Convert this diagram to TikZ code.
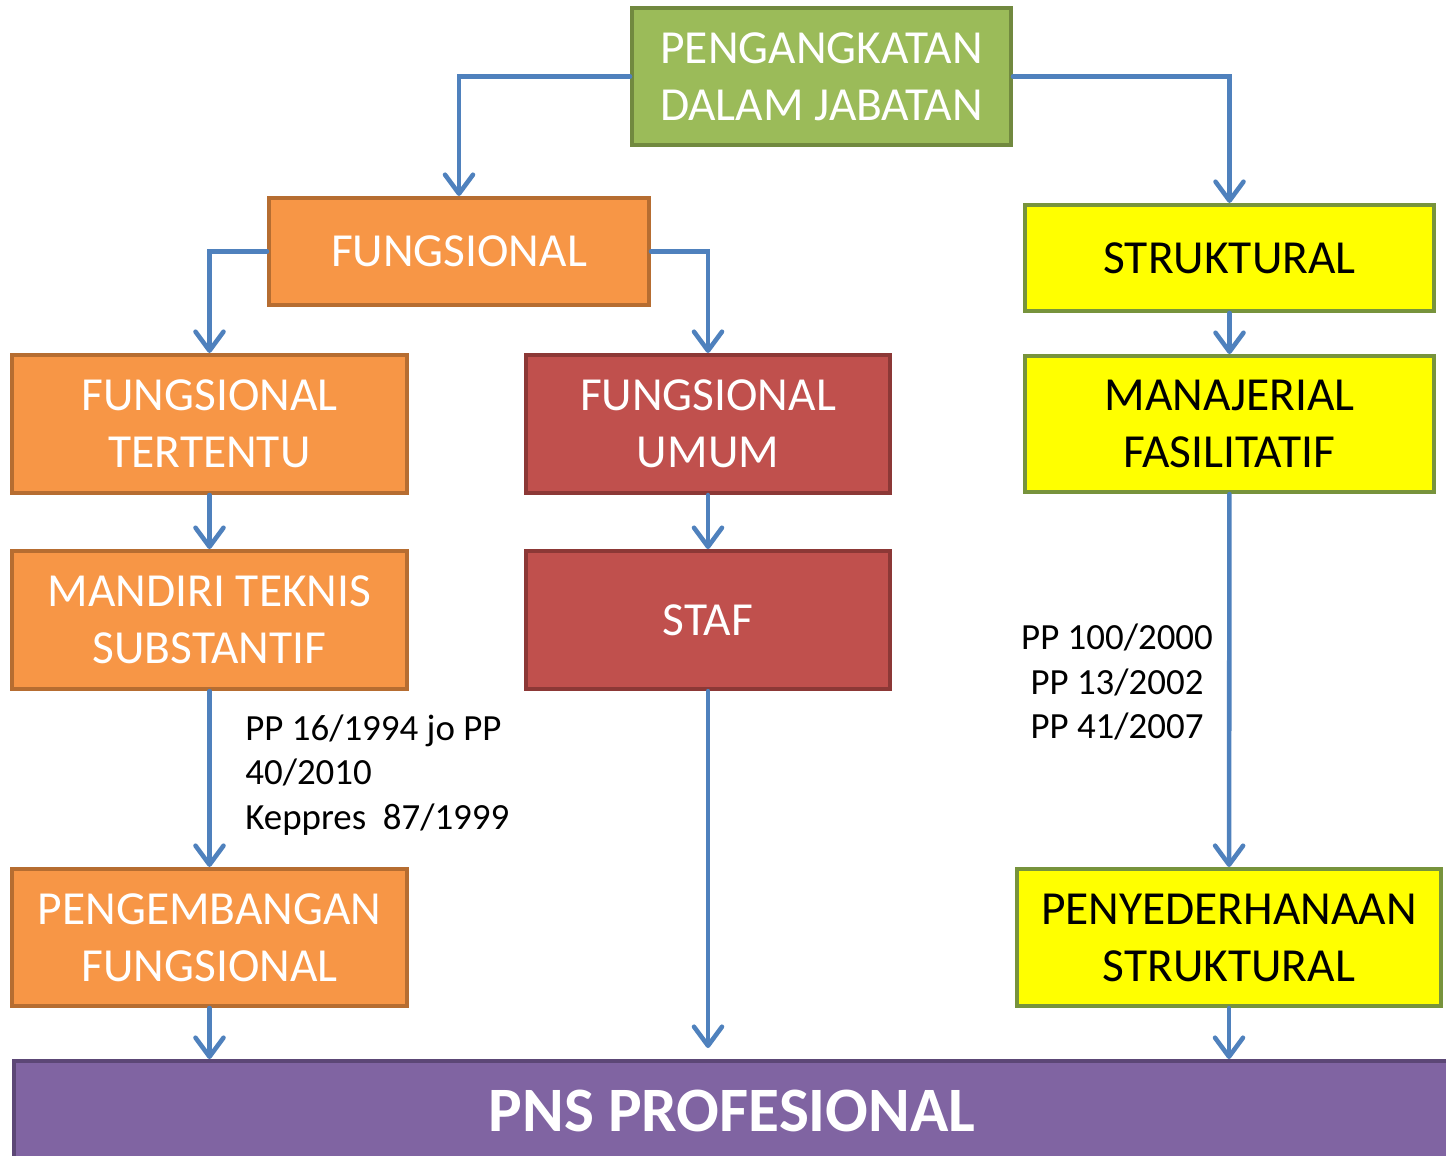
\documentclass[tikz,border=0pt]{standalone}
\usepackage{fontspec}
\setmainfont{Carlito}
\usetikzlibrary{arrows.meta}
\usetikzlibrary{positioning}

\definecolor{hijau}{HTML}{9BBB59}
\definecolor{hijaugaris}{HTML}{71893F}
\definecolor{oranye}{HTML}{F79646}
\definecolor{oranyegaris}{HTML}{B66D31}
\definecolor{merah}{HTML}{C0504D}
\definecolor{merahgaris}{HTML}{8C3836}
\definecolor{kuning}{HTML}{FFFF00}
\definecolor{kuninggaris}{HTML}{77933C}
\definecolor{ungu}{HTML}{8064A2}
\definecolor{ungugaris}{HTML}{5C4776}
\definecolor{biru}{HTML}{4F81BD}

\begin{document}
\begin{tikzpicture}[
    kotak/.style={draw,line width=2.3pt,align=center,inner sep=0pt,
      font=\fontsize{27}{32.5}\selectfont},
    hijaubox/.style={kotak,fill=hijau,draw=hijaugaris,text=white},
    oranyebox/.style={kotak,fill=oranye,draw=oranyegaris,text=white},
    merahbox/.style={kotak,fill=merah,draw=merahgaris,text=white},
    kuningbox/.style={kotak,fill=kuning,draw=kuninggaris,text=black},
    panah/.style={line width=2.6pt,biru,line cap=round,
      -{Straight Barb[length=0.38cm,width=0.56cm,line cap=round,line join=round]}},
    catatan/.style={font=\fontsize{21}{25.5}\selectfont,inner sep=0pt}
  ]
    \useasboundingbox (0,0) rectangle (28.92,-23.12);

    \node[hijaubox,minimum width=7.58cm,minimum height=2.74cm] (angkat) at (16.43,-1.53) {PENGANGKATAN\\DALAM JABATAN};
    \node[oranyebox,minimum width=7.6cm,minimum height=2.14cm] (fung) at (9.18,-5.03) {FUNGSIONAL};
    \node[kuningbox,minimum width=8.18cm,minimum height=2.12cm] (struk) at (24.59,-5.16) {STRUKTURAL};

    \node[oranyebox,minimum width=7.9cm,minimum height=2.76cm] (tertentu) at (4.19,-8.48) {FUNGSIONAL\\TERTENTU};
    \node[merahbox,minimum width=7.28cm,minimum height=2.76cm] (umum) at (14.16,-8.48) {FUNGSIONAL\\UMUM};
    \node[kuningbox,minimum width=8.18cm,minimum height=2.72cm,below=0.82cm of struk] (manajerial) {MANAJERIAL\\FASILITATIF};

    \node[oranyebox,minimum width=7.9cm,minimum height=2.76cm,below=1.08cm of tertentu] (mandiri) {MANDIRI TEKNIS\\SUBSTANTIF};
    \node[merahbox,minimum width=7.28cm,minimum height=2.76cm,below=1.08cm of umum] (staf) {STAF};

    \node[oranyebox,minimum width=7.9cm,minimum height=2.74cm] (kembang) at (4.19,-18.75) {PENGEMBANGAN\\FUNGSIONAL};
    \node[kuningbox,minimum width=8.48cm,minimum height=2.74cm] (sederhana) at (24.58,-18.75) {PENYEDERHANAAN\\STRUKTURAL};

    \node[kotak,fill=ungu,draw=ungugaris,text=white,minimum width=28.9cm,minimum height=2.2cm,
      anchor=north west,font=\fontsize{36}{40}\selectfont\bfseries] (pns) at (0.24,-21.18) {};
    \node[text=white,font=\fontsize{36}{40}\selectfont\bfseries,inner sep=0pt] (pnsteks) at (14.64,-22.22) {PNS PROFESIONAL};

    \node[catatan,align=left,anchor=west] (dasarfung) at (4.9,-15.5) {PP 16/1994 jo PP\\40/2010\\Keppres~~87/1999};
    \node[catatan,align=center] (dasarstruk) at (22.34,-13.64) {PP 100/2000\\PP 13/2002\\PP 41/2007};

    \draw[panah] (angkat.west) -| (fung.north);
    \draw[panah] (angkat.east) -| (struk.north);
    \draw[panah] (fung.west) -| (tertentu.north);
    \draw[panah] (fung.east) -| (umum.north);
    \draw[panah] (tertentu) -- (mandiri);
    \draw[panah] (umum) -- (staf);
    \draw[panah] (struk) -- (manajerial);
    \draw[panah] (mandiri) -- (kembang);
    \draw[panah] (manajerial) -- (sederhana);
    \draw[panah] (kembang.south) -- (kembang.south |- pns.north);
    \draw[panah,shorten >=0.22cm] (staf.south) -- (staf.south |- pns.north);
    \draw[panah] (sederhana.south) -- (sederhana.south |- pns.north);
\end{tikzpicture}
\end{document}
